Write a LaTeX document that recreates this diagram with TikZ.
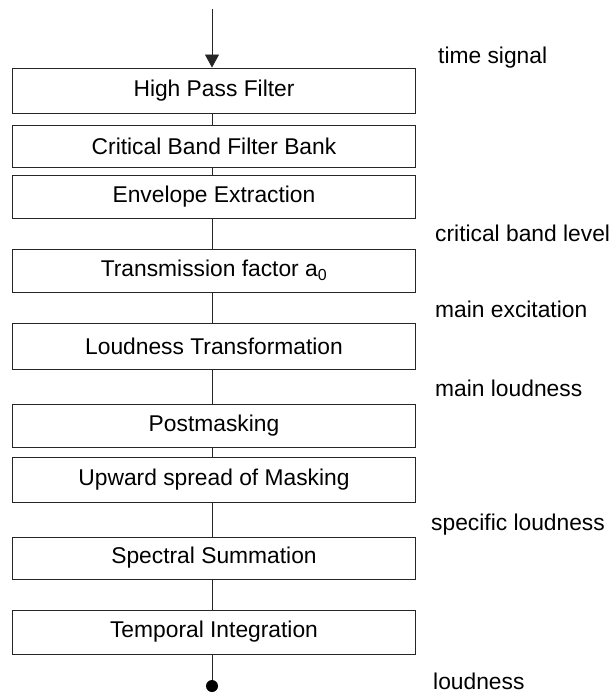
\documentclass[tikz,border=0pt]{standalone}
\usepackage{fontspec}
\setmainfont{Liberation Sans}
\usetikzlibrary{arrows.meta}
\tikzset{
  stage/.style={draw=black!85, line width=0.9pt, minimum width=403pt, inner sep=0pt, font=\fontsize{22.8}{26}\selectfont},
  lbl/.style={anchor=base west, inner sep=0pt, font=\fontsize{22.8}{26}\selectfont},
  conn/.style={line width=0.9pt, draw=black!85},
}
\newcommand{\stagebox}[4]{\node[stage, minimum height={(#3-#2)*1pt}] (#1) at (214,{(#2+#3)/2}) {#4};}
\newcommand{\link}[2]{\draw[conn] ([xshift=-2pt]#1.south) -- ([xshift=-2pt]#2.north);}
\begin{document}
\begin{tikzpicture}[x=1pt,y=-1pt]
\useasboundingbox (0,0) rectangle (611,695);
\stagebox{hpf}{68}{113}{High Pass Filter}
\stagebox{cbfb}{125}{167}{Critical Band Filter Bank}
\stagebox{env}{175}{218}{Envelope Extraction}
\stagebox{trans}{249}{292}{Transmission factor a\textsubscript{0}}
\stagebox{lt}{323}{369}{Loudness Transformation}
\stagebox{pm}{404}{447}{Postmasking}
\stagebox{usm}{457}{502}{Upward spread of Masking}
\stagebox{ss}{537}{579}{Spectral Summation}
\stagebox{ti}{610}{654}{Temporal Integration}
\coordinate (in) at (212,9);
\coordinate (out) at (212,686);
\draw[conn, -{Triangle[width=14pt,length=13pt]}] (in) -- ([xshift=-2pt]hpf.north);
\link{hpf}{cbfb}
\link{cbfb}{env}
\link{env}{trans}
\link{trans}{lt}
\link{lt}{pm}
\link{pm}{usm}
\link{usm}{ss}
\link{ss}{ti}
\draw[conn] ([xshift=-2pt]ti.south) -- (out);
\fill (out) circle (6pt);
\node[lbl] (l1) at (438,64) {time signal};
\node[lbl] (l2) at (435,241) {critical band level};
\node[lbl] (l3) at (435,317) {main excitation};
\node[lbl] (l4) at (435,396) {main loudness};
\node[lbl] (l5) at (431,530) {specific loudness};
\node[lbl] (l6) at (433,689) {loudness};
\end{tikzpicture}
\end{document}
